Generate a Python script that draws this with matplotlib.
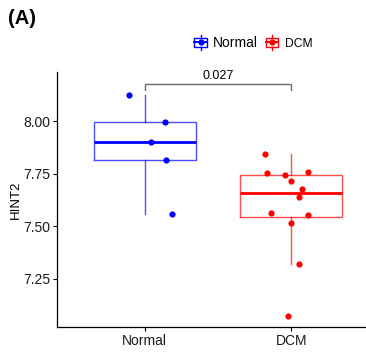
import matplotlib
matplotlib.use("Agg")
import matplotlib.pyplot as plt
import numpy as np
from matplotlib.legend_handler import HandlerBase
from matplotlib.lines import Line2D
from matplotlib.patches import Rectangle

plt.rcParams["font.family"] = ["Liberation Sans", "DejaVu Sans"]

groups = ["Normal", "DCM"]
colors = ["#0000FF", "#FF0000"]
normal_vals = [8.127, 7.998, 7.900, 7.816, 7.560]
normal_jit = [-0.109, 0.139, 0.041, 0.148, 0.189]
dcm_vals = [7.846, 7.754, 7.744, 7.759, 7.716, 7.678, 7.640, 7.563, 7.552, 7.517, 7.322, 7.074]
dcm_jit = [-0.181, -0.167, -0.042, 0.113, 0.000, 0.072, 0.056, -0.135, 0.118, 0.000, 0.053, -0.024]
p_label = "0.027"
yticks = [7.25, 7.50, 7.75, 8.00]


class BoxKey(HandlerBase):
    # ggplot-style boxplot legend key: box + whiskers + median + dot
    def create_artists(self, legend, orig, xd, yd, w, h, fs, trans):
        c = orig.get_color()
        x0, y0 = -xd, -yd
        cx, cy = x0 + w / 2, y0 + h / 2
        arts = [
            Rectangle((x0 + 0.05 * w, y0 + 0.05 * h), 0.9 * w, 0.9 * h, fill=False, ec=c, lw=1.0),
            Line2D([cx, cx], [y0 - 0.25 * h, y0 + 0.05 * h], color=c, lw=1.0),
            Line2D([cx, cx], [y0 + 0.95 * h, y0 + 1.25 * h], color=c, lw=1.0),
            Line2D([x0 + 0.05 * w, x0 + 0.95 * w], [cy, cy], color=c, lw=1.4),
            Line2D([cx], [cy], marker="o", ms=3.5, color=c, lw=0),
        ]
        for a in arts:
            a.set_transform(trans)
        return arts


fig = plt.figure(figsize=(3.66, 3.54), dpi=100)
ax = fig.add_axes([57 / 366, 27 / 354, 322 / 366, 255 / 354])

data = [normal_vals, dcm_vals]
jits = [normal_jit, dcm_jit]
for i, (vals, jit, col) in enumerate(zip(data, jits, colors)):
    pos = i + 1
    ax.boxplot([vals], positions=[pos], widths=0.7, showfliers=False, whis=1.5,
               patch_artist=False,
               boxprops=dict(color=col, lw=1.0, alpha=0.7),
               whiskerprops=dict(color=col, lw=1.0, alpha=0.7),
               capprops=dict(lw=0),
               medianprops=dict(color=col, lw=2.0))
    ax.scatter(pos + np.array(jit), vals, s=20, color=col, zorder=3, lw=0)

# significance bracket
yb, yt = 8.149, 8.177
ax.plot([1, 1, 2, 2], [yb, yt, yt, yb], color="#6b6b6b", lw=1.0, clip_on=False)
ax.text(1.5, yt + 0.01, p_label, ha="center", va="bottom", fontsize=9)

ax.set_xlim(0.4, 2.6)
ax.set_ylim(7.02, 8.235)
ax.set_xticks([1, 2])
ax.set_xticklabels(groups, fontsize=10, color="#1a1a1a")
ax.set_yticks(yticks)
ax.set_yticklabels([f"{v:.2f}" for v in yticks], fontsize=10, color="#1a1a1a")
ax.set_ylabel("HINT2", fontsize=9.5, labelpad=1)
ax.tick_params(length=3, width=0.8, pad=2)
for s in ["top", "right"]:
    ax.spines[s].set_visible(False)
for s in ["left", "bottom"]:
    ax.spines[s].set_linewidth(0.9)

handles = [Line2D([], [], color=c) for c in colors]
leg = fig.legend(handles, groups, loc="center", bbox_to_anchor=(253 / 366, 1 - 43 / 354),
                 ncol=2, frameon=False, fontsize=10, handler_map={Line2D: BoxKey()},
                 handlelength=1.0, handleheight=0.75, handletextpad=0.4, columnspacing=0.5)
leg.get_texts()[1].set_fontsize(8.7)

fig.text(8 / 366, 1 - 18.5 / 354, "(A)", fontsize=14.5, fontweight="bold", va="center", ha="left")

fig.savefig("out.png", dpi=100)
